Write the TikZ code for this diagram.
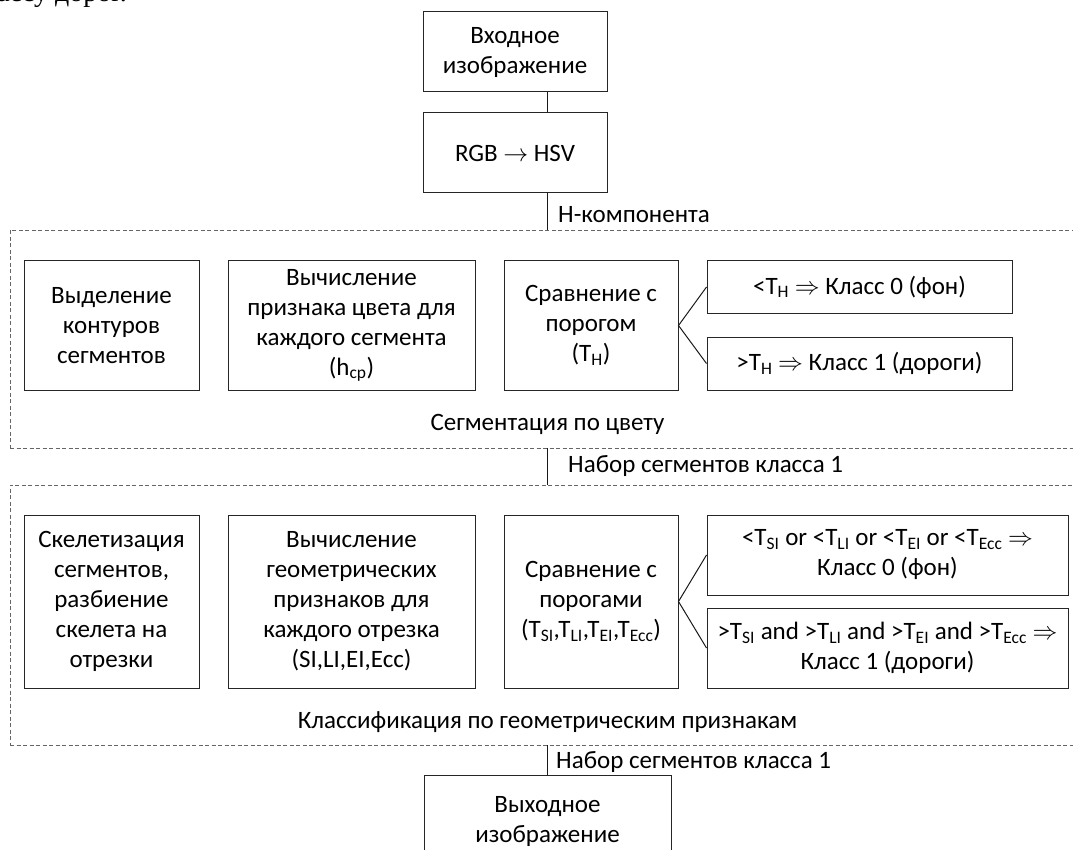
\documentclass[tikz,border=0pt]{standalone}
\usepackage{fontspec}
\setmainfont{Carlito}
\newfontfamily\bodyfont{Liberation Serif}
\usepackage{tikz}
\usetikzlibrary{positioning, calc}

\begin{document}
\begin{tikzpicture}[
    x=1pt, y=-1pt,
    every node/.style={font=\fontsize{25}{30}\selectfont},
    block/.style={
        draw=black!85,
        line width=1pt,
        align=center,
        inner sep=2pt
    },
    frame/.style={
        draw=black!60,
        line width=0.8pt,
        dash pattern=on 4pt off 2.5pt,
        inner sep=0pt
    },
    note/.style={inner sep=0pt},
    wire/.style={draw=black!90, line width=1pt}
]

\useasboundingbox (0,0) rectangle (1073,850);
\clip (0,0) rectangle (1073,850);

% Page text above
\node[note, anchor=base east, font=\bodyfont\fontsize{28}{30}\selectfont] (page) at (127,2) {классу дорог.};

\coordinate (spine) at (547.5,0);

% Groups
\node[frame, minimum width=1090, minimum height=218] (seg) at (555,339) {};
\node[frame, minimum width=1090, minimum height=260] (cls) at (555,615) {};

% Nodes
\node[block, minimum width=184, minimum height=80] (inp) at (515,52) {Входное\\изображение};
\node[block, minimum width=184, minimum height=80] (rgb) at (515,153) {RGB $\rightarrow$ HSV};

\node[block, minimum width=175, minimum height=129] (cont) at (111.5,325.5) {Выделение\\контуров\\сегментов};
\node[block, minimum width=247, minimum height=129] (hue) at (351.5,325.5) {Вычисление\\признака цвета для\\каждого сегмента\\(h\textsubscript{ср})};
\node[block, minimum width=174, minimum height=129] (cmpH) at (591,325.5) {Сравнение с\\порогом\\(T\textsubscript{H})};
\node[block, minimum width=305, minimum height=52] (lowH) at (859.5,287) {<T\textsubscript{H} $\Rightarrow$ Класс 0 (фон)};
\node[block, minimum width=305, minimum height=53] (highH) at (859.5,363.5) {>T\textsubscript{H} $\Rightarrow$ Класс 1 (дороги)};

\node[block, minimum width=175, minimum height=173] (skel) at (111.5,601.5) {Скелетизация\\сегментов,\\разбиение\\скелета на\\отрезки};
\node[block, minimum width=247, minimum height=173] (geo) at (351.5,601.5) {Вычисление\\геометрических\\признаков для\\каждого отрезка\\(SI,LI,EI,Ecc)};
\node[block, minimum width=174, minimum height=173] (cmpG) at (591,601.5) {Сравнение с\\порогами\\(T\textsubscript{SI},T\textsubscript{LI},T\textsubscript{EI},T\textsubscript{Ecc})};
\node[block, minimum width=361, minimum height=80] (lowG) at (887.5,555) {<T\textsubscript{SI} or <T\textsubscript{LI} or <T\textsubscript{EI} or <T\textsubscript{Ecc} $\Rightarrow$\\Класс 0 (фон)};
\node[block, minimum width=361, minimum height=80] (highG) at (887.5,648) {>T\textsubscript{SI} and >T\textsubscript{LI} and >T\textsubscript{EI} and >T\textsubscript{Ecc} $\Rightarrow$\\Класс 1 (дороги)};

\node[block, minimum width=247, minimum height=92] (out) at (547.5,821) {Выходное\\изображение};

% Labels
\node[note, anchor=base west] (hlab) at (558,223) {H-компонента};
\node[note, anchor=base] (segtitle) at (547.5,430) {Сегментация по цвету};
\node[note, anchor=base west] (set1) at (568,472) {Набор сегментов класса 1};
\node[note, anchor=base] (clstitle) at (547.5,728) {Классификация по геометрическим признакам};
\node[note, anchor=base west] (set2) at (556,768) {Набор сегментов класса 1};

% Main chain
\draw[wire] (inp.south -| spine) -- (rgb.north -| spine);
\draw[wire] (rgb.south -| spine) -- (seg.north -| spine);
\draw[wire] (seg.south -| spine) -- (cls.north -| spine);
\draw[wire] (cls.south -| spine) -- (out.north -| spine);

% Threshold branches
\draw[wire] (lowH.west) -- (cmpH.east) -- (highH.west);
\draw[wire] (lowG.west) -- (cmpG.east) -- (highG.west);

\end{tikzpicture}
\end{document}
